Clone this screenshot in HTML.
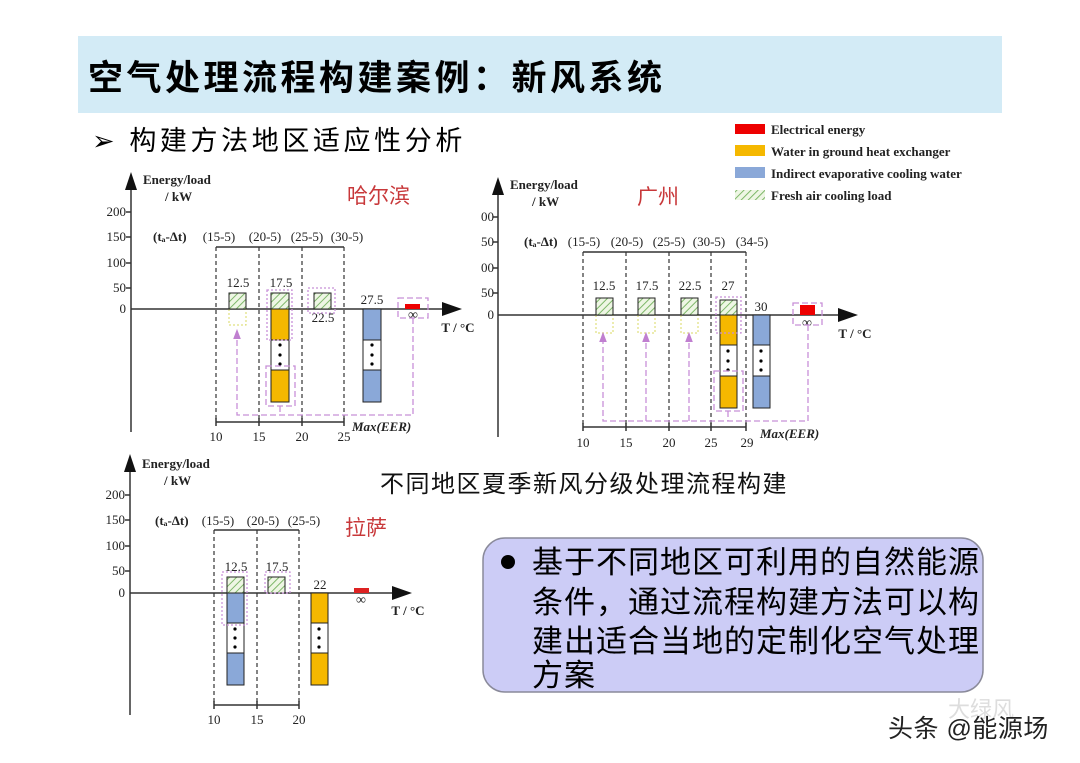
<!DOCTYPE html>
<html><head><meta charset="utf-8"><style>
html,body{margin:0;padding:0;background:#fff;}
svg{display:block;}
.s{font-family:"Liberation Serif",serif;font-size:13px;fill:#222;}
.b{font-weight:bold;}
.cj{font-family:"Liberation Sans","Noto Sans CJK SC",sans-serif;}
</style></head><body>
<svg width="1080" height="763" viewBox="0 0 1080 763" xmlns="http://www.w3.org/2000/svg">
<defs>
<pattern id="h" width="5" height="5" patternUnits="userSpaceOnUse" patternTransform="rotate(45)">
<rect width="5" height="5" fill="#eef6e4"/><line x1="0" y1="0" x2="0" y2="5" stroke="#7fb86a" stroke-width="2"/>
</pattern>
<marker id="ar" markerWidth="8" markerHeight="8" refX="4" refY="4" orient="auto"><path d="M0,1 L8,4 L0,7 z" fill="#c07fd0"/></marker>
</defs>
<rect x="78" y="36" width="924" height="77" fill="#d3ebf6"/>
<text x="88" y="90" class="cj b" font-size="35" letter-spacing="3.5" fill="#000">空气处理流程构建案例：新风系统</text>
<text x="92" y="150" class="cj" font-size="27" letter-spacing="3.6" fill="#000">➢ 构建方法地区适应性分析</text>

<!-- legend -->
<rect x="735" y="124" width="30" height="10" fill="#e00"/>
<rect x="735" y="145" width="30" height="11" fill="#f5b800"/>
<rect x="735" y="167" width="30" height="11" fill="#8aa8d8"/>
<rect x="735" y="190" width="30" height="10" fill="url(#h)"/>
<g class="s b" font-size="14"><text x="771" y="134">Electrical energy</text><text x="771" y="156">Water in ground heat exchanger</text><text x="771" y="178">Indirect evaporative cooling water</text><text x="771" y="200">Fresh air cooling load</text></g>

<!-- Chart 1 Harbin -->
<g stroke="#333" fill="none" stroke-width="1.5">
<line x1="131" y1="180" x2="131" y2="432"/><line x1="131" y1="309" x2="445" y2="309"/>
<line x1="126" y1="212" x2="131" y2="212"/><line x1="126" y1="237" x2="131" y2="237"/><line x1="126" y1="263" x2="131" y2="263"/><line x1="126" y1="288" x2="131" y2="288"/>
<line x1="216" y1="247" x2="344" y2="247"/><line x1="216" y1="422" x2="344" y2="422"/>
<line x1="216" y1="418" x2="216" y2="426"/><line x1="259" y1="418" x2="259" y2="426"/><line x1="302" y1="418" x2="302" y2="426"/><line x1="344" y1="418" x2="344" y2="426"/>
</g>
<path d="M131,172 L125,190 L137,190z" fill="#111"/><path d="M462,309 L442,302 L442,316z" fill="#111"/>
<g stroke="#333" stroke-dasharray="4,3" stroke-width="1.2"><line x1="216" y1="247" x2="216" y2="422"/><line x1="259" y1="247" x2="259" y2="422"/><line x1="302" y1="247" x2="302" y2="422"/><line x1="344" y1="247" x2="344" y2="422"/></g>
<g class="s" text-anchor="end"><text x="126" y="216">200</text><text x="126" y="241">150</text><text x="126" y="267">100</text><text x="126" y="292">50</text><text x="126" y="313">0</text></g>
<text x="143" y="184" class="s b">Energy/load</text><text x="165" y="201" class="s b">/ kW</text>
<text x="153" y="241" class="s b" font-size="12">(tₐ-Δt)</text>
<g class="s" text-anchor="middle"><text x="219" y="241">(15-5)</text><text x="265" y="241">(20-5)</text><text x="307" y="241">(25-5)</text><text x="347" y="241">(30-5)</text>
<text x="216" y="441">10</text><text x="259" y="441">15</text><text x="302" y="441">20</text><text x="344" y="441">25</text>
<text x="238" y="287">12.5</text><text x="281" y="287">17.5</text><text x="323" y="322">22.5</text><text x="372" y="304">27.5</text><text x="413" y="319" font-size="14">∞</text></g>
<text x="458" y="332" class="s b" text-anchor="middle" font-size="14">T / °C</text>
<text x="347" y="203" class="cj" font-size="21" fill="#c8383a">哈尔滨</text>
<rect x="229" y="309" width="17" height="16" fill="none" stroke="#d8d860" stroke-dasharray="2,2"/>
<rect x="229" y="293" width="17" height="16" fill="url(#h)" stroke="#222"/>
<rect x="271" y="293" width="18" height="16" fill="url(#h)" stroke="#222"/>
<rect x="271" y="309" width="18" height="31" fill="#f5b800" stroke="#222"/>
<rect x="271" y="340" width="18" height="30" fill="#fff" stroke="#222"/>
<rect x="271" y="370" width="18" height="32" fill="#f5b800" stroke="#222"/>
<rect x="314" y="293" width="17" height="16" fill="url(#h)" stroke="#222"/>
<rect x="363" y="309" width="18" height="31" fill="#8aa8d8" stroke="#222"/>
<rect x="363" y="340" width="18" height="30" fill="#fff" stroke="#222"/>
<rect x="363" y="370" width="18" height="32" fill="#8aa8d8" stroke="#222"/>
<rect x="405" y="304" width="15" height="5" fill="#e00"/>
<g fill="#000"><circle cx="280" cy="345" r="1.6"/><circle cx="280" cy="355" r="1.6"/><circle cx="280" cy="364" r="1.6"/><circle cx="372" cy="345" r="1.6"/><circle cx="372" cy="355" r="1.6"/><circle cx="372" cy="364" r="1.6"/></g>
<g fill="none" stroke="#c890d8" stroke-width="1.3">
<rect x="267" y="290" width="25" height="50" stroke-dasharray="2,2"/><rect x="308" y="288" width="27" height="25" stroke-dasharray="2,2"/>
<rect x="266" y="366" width="29" height="40" stroke-dasharray="6,3"/><rect x="398" y="298" width="30" height="20" stroke-dasharray="6,3"/>
<path d="M413,318 V415 H237 V334" stroke-dasharray="6,3" marker-end="url(#ar)"/><path d="M280,406 V415" stroke-dasharray="6,3"/>
</g>
<text x="352" y="431" class="s b" font-style="italic" fill="#c070d0">Max(EER)</text>

<!-- Chart 2 Guangzhou -->
<g stroke="#333" fill="none" stroke-width="1.5">
<line x1="498" y1="185" x2="498" y2="437"/><line x1="498" y1="315" x2="840" y2="315"/>
<line x1="493" y1="217" x2="498" y2="217"/><line x1="493" y1="242" x2="498" y2="242"/><line x1="493" y1="268" x2="498" y2="268"/><line x1="493" y1="293" x2="498" y2="293"/>
<line x1="583" y1="252" x2="746" y2="252"/><line x1="583" y1="427" x2="746" y2="427"/>
<line x1="583" y1="423" x2="583" y2="431"/><line x1="626" y1="423" x2="626" y2="431"/><line x1="669" y1="423" x2="669" y2="431"/><line x1="711" y1="423" x2="711" y2="431"/><line x1="746" y1="423" x2="746" y2="431"/>
</g>
<path d="M498,177 L492,195 L504,195z" fill="#111"/><path d="M858,315 L838,308 L838,322z" fill="#111"/>
<g stroke="#333" stroke-dasharray="4,3" stroke-width="1.2"><line x1="583" y1="252" x2="583" y2="427"/><line x1="626" y1="252" x2="626" y2="427"/><line x1="669" y1="252" x2="669" y2="427"/><line x1="711" y1="252" x2="711" y2="427"/><line x1="746" y1="252" x2="746" y2="427"/></g>
<g class="s" text-anchor="end"><text x="494" y="221">00</text><text x="494" y="246">50</text><text x="494" y="272">00</text><text x="494" y="297">50</text><text x="494" y="319">0</text></g>
<text x="510" y="189" class="s b">Energy/load</text><text x="532" y="206" class="s b">/ kW</text>
<text x="524" y="246" class="s b" font-size="12">(tₐ-Δt)</text>
<g class="s" text-anchor="middle"><text x="584" y="246">(15-5)</text><text x="627" y="246">(20-5)</text><text x="669" y="246">(25-5)</text><text x="709" y="246">(30-5)</text><text x="752" y="246">(34-5)</text>
<text x="583" y="447">10</text><text x="626" y="447">15</text><text x="669" y="447">20</text><text x="711" y="447">25</text><text x="747" y="447">29</text>
<text x="604" y="290">12.5</text><text x="647" y="290">17.5</text><text x="690" y="290">22.5</text><text x="728" y="290">27</text><text x="761" y="311">30</text><text x="807" y="327" font-size="14">∞</text></g>
<text x="855" y="338" class="s b" text-anchor="middle" font-size="14">T / °C</text>
<text x="637" y="204" class="cj" font-size="21" fill="#c8383a">广州</text>
<g fill="none" stroke="#d8d860" stroke-dasharray="2,2"><rect x="596" y="315" width="17" height="18"/><rect x="638" y="315" width="17" height="18"/><rect x="681" y="315" width="17" height="18"/></g>
<rect x="596" y="298" width="17" height="17" fill="url(#h)" stroke="#222"/>
<rect x="638" y="298" width="17" height="17" fill="url(#h)" stroke="#222"/>
<rect x="681" y="298" width="17" height="17" fill="url(#h)" stroke="#222"/>
<rect x="720" y="300" width="17" height="15" fill="url(#h)" stroke="#222"/>
<rect x="720" y="315" width="17" height="30" fill="#f5b800" stroke="#222"/>
<rect x="720" y="345" width="17" height="31" fill="#fff" stroke="#222"/>
<rect x="720" y="376" width="17" height="32" fill="#f5b800" stroke="#222"/>
<rect x="753" y="315" width="17" height="30" fill="#8aa8d8" stroke="#222"/>
<rect x="753" y="345" width="17" height="31" fill="#fff" stroke="#222"/>
<rect x="753" y="376" width="17" height="32" fill="#8aa8d8" stroke="#222"/>
<rect x="800" y="305" width="15" height="10" fill="#e00"/>
<g fill="#000"><circle cx="728" cy="351" r="1.6"/><circle cx="728" cy="361" r="1.6"/><circle cx="728" cy="370" r="1.6"/><circle cx="761" cy="351" r="1.6"/><circle cx="761" cy="361" r="1.6"/><circle cx="761" cy="370" r="1.6"/></g>
<g fill="none" stroke="#c890d8" stroke-width="1.3">
<rect x="716" y="297" width="25" height="36" stroke-dasharray="2,2"/><rect x="714" y="371" width="29" height="40" stroke-dasharray="6,3"/><rect x="793" y="303" width="29" height="22" stroke-dasharray="6,3"/>
<path d="M808,325 V421 H603 V337" stroke-dasharray="6,3" marker-end="url(#ar)"/><path d="M646,421 V337" stroke-dasharray="6,3" marker-end="url(#ar)"/><path d="M689,421 V337" stroke-dasharray="6,3" marker-end="url(#ar)"/><path d="M728,411 V421" stroke-dasharray="6,3"/>
</g>
<text x="760" y="438" class="s b" font-style="italic" fill="#c070d0">Max(EER)</text>

<text x="380" y="492" class="cj" font-size="24" letter-spacing="1.5" fill="#111">不同地区夏季新风分级处理流程构建</text>

<!-- Chart 3 Lhasa -->
<g stroke="#333" fill="none" stroke-width="1.5">
<line x1="130" y1="462" x2="130" y2="715"/><line x1="130" y1="593" x2="395" y2="593"/>
<line x1="125" y1="495" x2="130" y2="495"/><line x1="125" y1="520" x2="130" y2="520"/><line x1="125" y1="546" x2="130" y2="546"/><line x1="125" y1="571" x2="130" y2="571"/>
<line x1="214" y1="530" x2="299" y2="530"/><line x1="214" y1="705" x2="299" y2="705"/>
<line x1="214" y1="701" x2="214" y2="709"/><line x1="257" y1="701" x2="257" y2="709"/><line x1="299" y1="701" x2="299" y2="709"/>
</g>
<path d="M130,454 L124,472 L136,472z" fill="#111"/><path d="M412,593 L392,586 L392,600z" fill="#111"/>
<g stroke="#333" stroke-dasharray="4,3" stroke-width="1.2"><line x1="214" y1="530" x2="214" y2="705"/><line x1="257" y1="530" x2="257" y2="705"/><line x1="299" y1="530" x2="299" y2="705"/></g>
<g class="s" text-anchor="end"><text x="125" y="499">200</text><text x="125" y="524">150</text><text x="125" y="550">100</text><text x="125" y="575">50</text><text x="125" y="597">0</text></g>
<text x="142" y="468" class="s b">Energy/load</text><text x="164" y="485" class="s b">/ kW</text>
<text x="155" y="525" class="s b" font-size="12">(tₐ-Δt)</text>
<g class="s" text-anchor="middle"><text x="218" y="525">(15-5)</text><text x="263" y="525">(20-5)</text><text x="304" y="525">(25-5)</text>
<text x="214" y="724">10</text><text x="257" y="724">15</text><text x="299" y="724">20</text>
<text x="236" y="571">12.5</text><text x="277" y="571">17.5</text><text x="320" y="589">22</text><text x="361" y="604" font-size="14">∞</text></g>
<text x="408" y="615" class="s b" text-anchor="middle" font-size="14">T / °C</text>
<text x="345" y="535" class="cj" font-size="21" fill="#c8383a">拉萨</text>
<rect x="227" y="577" width="17" height="16" fill="url(#h)" stroke="#222"/>
<rect x="227" y="593" width="17" height="30" fill="#8aa8d8" stroke="#222"/>
<rect x="227" y="623" width="17" height="30" fill="#fff" stroke="#222"/>
<rect x="227" y="653" width="17" height="32" fill="#8aa8d8" stroke="#222"/>
<rect x="268" y="577" width="17" height="16" fill="url(#h)" stroke="#222"/>
<rect x="311" y="593" width="17" height="30" fill="#f5b800" stroke="#222"/>
<rect x="311" y="623" width="17" height="30" fill="#fff" stroke="#222"/>
<rect x="311" y="653" width="17" height="32" fill="#f5b800" stroke="#222"/>
<rect x="354" y="588" width="15" height="5" fill="#d22"/>
<g fill="#000"><circle cx="235" cy="629" r="1.6"/><circle cx="235" cy="638" r="1.6"/><circle cx="235" cy="647" r="1.6"/><circle cx="319" cy="629" r="1.6"/><circle cx="319" cy="638" r="1.6"/><circle cx="319" cy="647" r="1.6"/></g>
<g fill="none" stroke="#c890d8" stroke-width="1.2" stroke-dasharray="2,2"><rect x="222" y="572" width="25" height="53"/><rect x="265" y="572" width="25" height="21"/></g>

<!-- note box -->
<rect x="483" y="538" width="500" height="154" rx="22" fill="#ccccf6" stroke="#8a8a9a" stroke-width="1.5"/>
<circle cx="508" cy="562" r="7" fill="#000"/>
<g class="cj" font-size="31" fill="#000" letter-spacing="1">
<text x="532" y="573">基于不同地区可利用的自然能源</text>
<text x="532" y="613">条件，通过流程构建方法可以构</text>
<text x="532" y="652">建出适合当地的定制化空气处理</text>
<text x="532" y="686">方案</text>
</g>
<text x="948" y="717" class="cj" font-size="22" fill="#ddd">大绿风</text>
<text x="888" y="737" class="cj" font-size="25" letter-spacing="0.5" fill="#222">头条 @能源场</text>
</svg>
</body></html>
